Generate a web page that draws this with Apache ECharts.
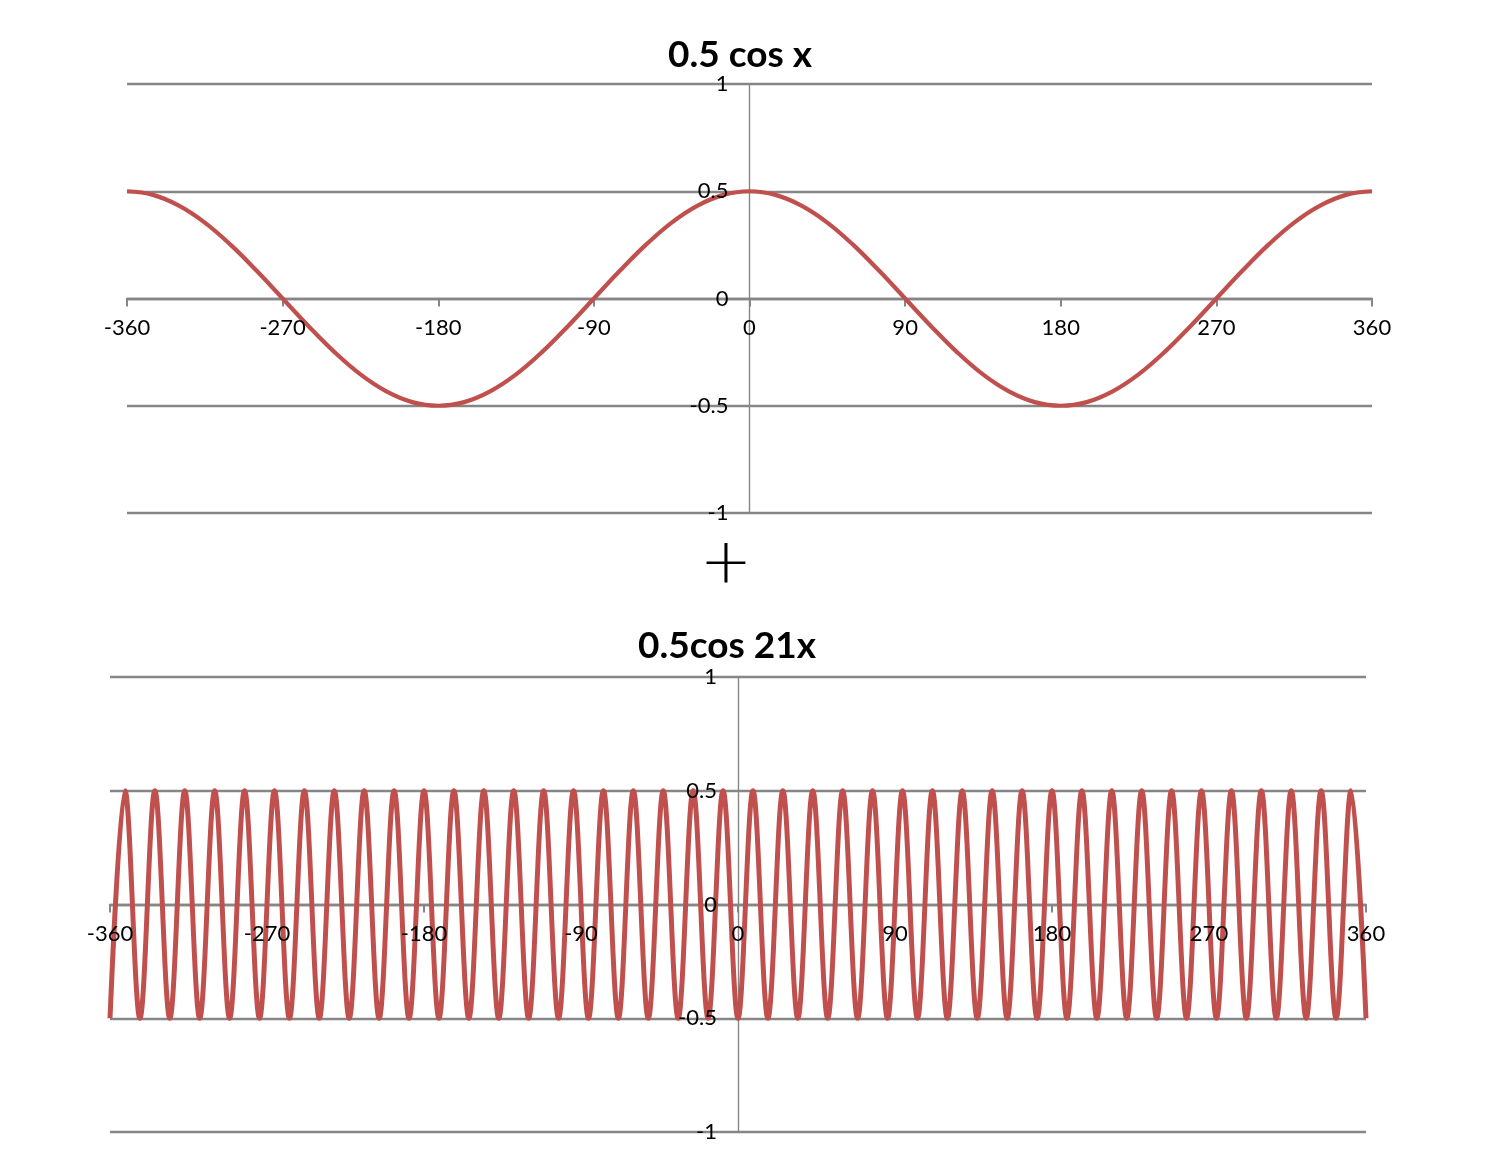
<!DOCTYPE html>
<html>
<head>
<meta charset="utf-8">
<script src="https://cdn.jsdelivr.net/npm/echarts@6/dist/echarts.min.js"></script>
<style>
html,body{margin:0;padding:0;background:#fff;}
#c{width:1491px;height:1168px;}
</style>
</head>
<body>
<div id="c"></div>
<script>
// Top chart: 0.5 cos x, read every 15 degrees
const topDeg = [-360,-345,-330,-315,-300,-285,-270,-255,-240,-225,-210,-195,-180,-165,-150,-135,-120,-105,-90,-75,-60,-45,-30,-15,0,15,30,45,60,75,90,105,120,135,150,165,180,195,210,225,240,255,270,285,300,315,330,345,360];
const topVal = [0.5,0.483,0.433,0.354,0.25,0.129,0,-0.129,-0.25,-0.354,-0.433,-0.483,-0.5,-0.483,-0.433,-0.354,-0.25,-0.129,0,0.129,0.25,0.354,0.433,0.483,0.5,0.483,0.433,0.354,0.25,0.129,0,-0.129,-0.25,-0.354,-0.433,-0.483,-0.5,-0.483,-0.433,-0.354,-0.25,-0.129,0,0.129,0.25,0.354,0.433,0.483,0.5];

// Bottom chart: 0.5cos 21x, read at each trough / peak
const botDeg = [-360,-351.43,-342.86,-334.29,-325.71,-317.14,-308.57,
  -300,-291.43,-282.86,-274.29,-265.71,-257.14,-248.57,
  -240,-231.43,-222.86,-214.29,-205.71,-197.14,-188.57,
  -180,-171.43,-162.86,-154.29,-145.71,-137.14,-128.57,
  -120,-111.43,-102.86,-94.29,-85.71,-77.14,-68.57,
  -60,-51.43,-42.86,-34.29,-25.71,-17.14,-8.57,
  0,8.57,17.14,25.71,34.29,42.86,51.43,
  60,68.57,77.14,85.71,94.29,102.86,111.43,
  120,128.57,137.14,145.71,154.29,162.86,171.43,
  180,188.57,197.14,205.71,214.29,222.86,231.43,
  240,248.57,257.14,265.71,274.29,282.86,291.43,
  300,308.57,317.14,325.71,334.29,342.86,351.43,
  360];
const botVal = [-0.5,0.5,-0.5,0.5,-0.5,0.5,-0.5,
  0.5,-0.5,0.5,-0.5,0.5,-0.5,0.5,
  -0.5,0.5,-0.5,0.5,-0.5,0.5,-0.5,
  0.5,-0.5,0.5,-0.5,0.5,-0.5,0.5,
  -0.5,0.5,-0.5,0.5,-0.5,0.5,-0.5,
  0.5,-0.5,0.5,-0.5,0.5,-0.5,0.5,
  -0.5,0.5,-0.5,0.5,-0.5,0.5,-0.5,
  0.5,-0.5,0.5,-0.5,0.5,-0.5,0.5,
  -0.5,0.5,-0.5,0.5,-0.5,0.5,-0.5,
  0.5,-0.5,0.5,-0.5,0.5,-0.5,0.5,
  -0.5,0.5,-0.5,0.5,-0.5,0.5,-0.5,
  0.5,-0.5,0.5,-0.5,0.5,-0.5,0.5,
  -0.5];

const titles = ['0.5 cos x', '0.5cos 21x'];
const plusSign = '+';

const gray = '#868686';
const red = '#C0504D';
const font = 'Lato';

const grids = [
  {left: 127, top: 84, width: 1245, height: 429},
  {left: 110, top: 677, width: 1256, height: 455}
];

// x axis sits at y = 0 (middle of the grid), y axis at x = 0 (middle of the grid)
// labelsOnly: a twin axis drawn above the curves that only carries the tick labels
function xAxisCfg(gi, labelsOnly) {
  return {
    gridIndex: gi, type: 'value', min: -360, max: 360, interval: 90,
    position: 'bottom', offset: -grids[gi].height / 2,
    z: labelsOnly ? 10 : 0,
    axisLine: {show: !labelsOnly, onZero: false, lineStyle: {color: gray, width: 2.3}},
    axisTick: {show: !labelsOnly, length: 8, lineStyle: {color: gray, width: 2}},
    axisLabel: {show: labelsOnly, color: '#000', fontFamily: font, fontSize: 22, margin: 18},
    splitLine: {show: false}
  };
}
function yAxisCfg(gi, labelsOnly) {
  return {
    gridIndex: gi, type: 'value', min: -1, max: 1, interval: 0.5,
    position: 'left', offset: -grids[gi].width / 2,
    z: labelsOnly ? 10 : 0,
    axisLine: {show: !labelsOnly, onZero: false, lineStyle: {color: gray, width: 1.4}},
    axisTick: {show: false},
    axisLabel: {show: labelsOnly, color: '#000', fontFamily: font, fontSize: 22, margin: 21},
    splitLine: {show: !labelsOnly, lineStyle: {color: gray, width: 2.3}}
  };
}

const chart = echarts.init(document.getElementById('c'));
chart.setOption({
  animation: false,
  backgroundColor: '#fff',
  grid: grids,
  xAxis: [xAxisCfg(0, false), xAxisCfg(1, false), xAxisCfg(0, true), xAxisCfg(1, true)],
  yAxis: [yAxisCfg(0, false), yAxisCfg(1, false), yAxisCfg(0, true), yAxisCfg(1, true)],
  graphic: [
    {type: 'text', style: {text: titles[0], x: 740, y: 55, textAlign: 'center', textVerticalAlign: 'middle', font: 'bold 37px Lato', fill: '#000'}},
    {type: 'text', style: {text: titles[1], x: 727, y: 646, textAlign: 'center', textVerticalAlign: 'middle', font: 'bold 37px Lato', fill: '#000'}},
    {type: 'text', style: {text: plusSign, x: 726, y: 566, textAlign: 'center', textVerticalAlign: 'middle', font: '200 62px "DejaVu Sans"', fill: '#000'}}
  ],
  series: [
    {type: 'line', xAxisIndex: 0, yAxisIndex: 0, showSymbol: false, smooth: 0.4,
     lineStyle: {color: red, width: 4.2}, data: topDeg.map((d, i) => [d, topVal[i]])},
    {type: 'line', xAxisIndex: 1, yAxisIndex: 1, showSymbol: false, smooth: 0.36,
     lineStyle: {color: red, width: 5}, data: botDeg.map((d, i) => [d, botVal[i]])}
  ]
});
</script>
</body>
</html>
